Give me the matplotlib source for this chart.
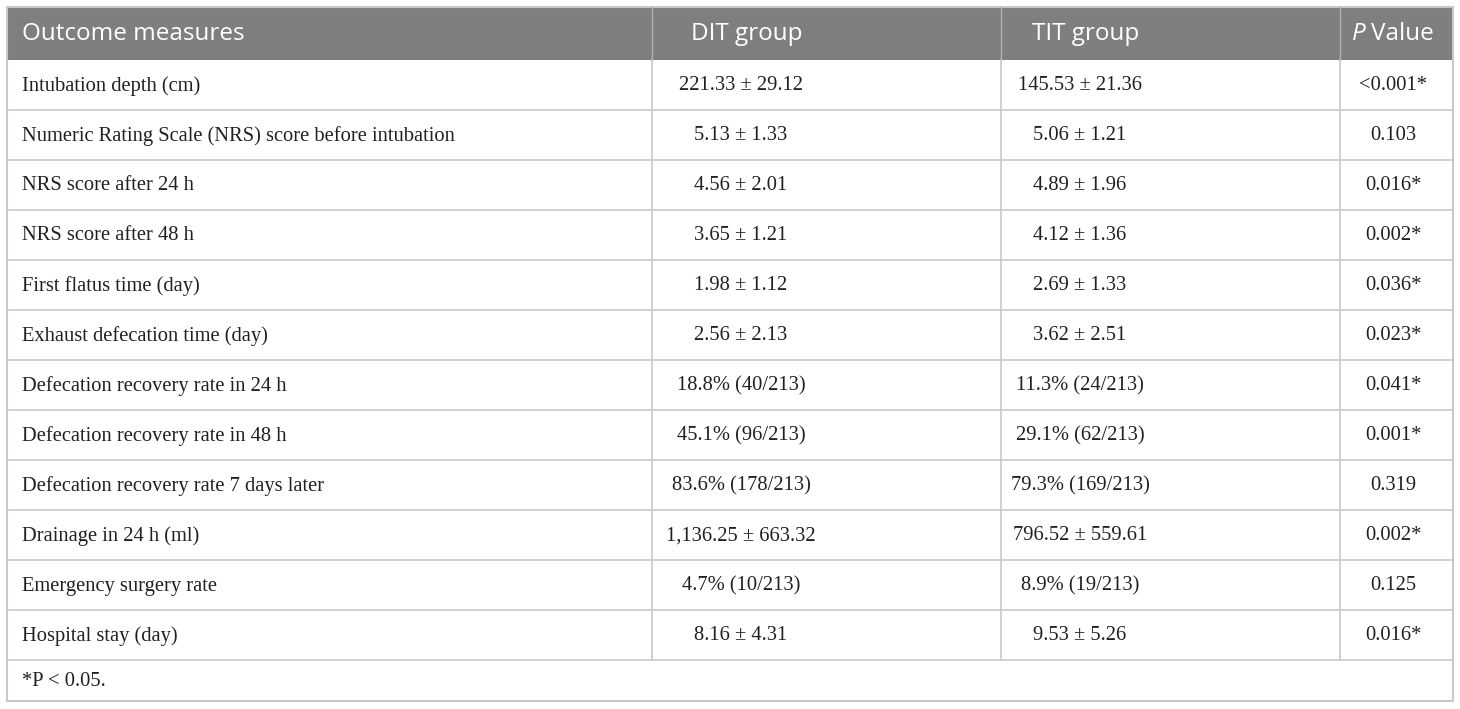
import matplotlib
matplotlib.use("Agg")
import matplotlib.pyplot as plt
from matplotlib.patches import Rectangle

# table content
headers = ["Outcome measures", "DIT group", "TIT group", "Value"]
measures = [
    "Intubation depth (cm)",
    "Numeric Rating Scale (NRS) score before intubation",
    "NRS score after 24 h",
    "NRS score after 48 h",
    "First flatus time (day)",
    "Exhaust defecation time (day)",
    "Defecation recovery rate in 24 h",
    "Defecation recovery rate in 48 h",
    "Defecation recovery rate 7 days later",
    "Drainage in 24 h (ml)",
    "Emergency surgery rate",
    "Hospital stay (day)",
]
dit_group = [
    "221.33 \u00b1 29.12", "5.13 \u00b1 1.33", "4.56 \u00b1 2.01", "3.65 \u00b1 1.21",
    "1.98 \u00b1 1.12", "2.56 \u00b1 2.13", "18.8% (40/213)", "45.1% (96/213)",
    "83.6% (178/213)", "1,136.25 \u00b1 663.32", "4.7% (10/213)", "8.16 \u00b1 4.31",
]
tit_group = [
    "145.53 \u00b1 21.36", "5.06 \u00b1 1.21", "4.89 \u00b1 1.96", "4.12 \u00b1 1.36",
    "2.69 \u00b1 1.33", "3.62 \u00b1 2.51", "11.3% (24/213)", "29.1% (62/213)",
    "79.3% (169/213)", "796.52 \u00b1 559.61", "8.9% (19/213)", "9.53 \u00b1 5.26",
]
p_values = [
    "<0.001*", "0.103", "0.016*", "0.002*", "0.036*", "0.023*",
    "0.041*", "0.001*", "0.319", "0.002*", "0.125", "0.016*",
]
footnote = "*P < 0.05."

# layout in pixels
W, H = 1460, 709
left, right = 7, 1453
top, header_bottom = 7, 60
row_h = 50
col_edges = [left, 652, 1001, 1340, right]
col_centers = [None, 741, 1080, 1393]
bottom = 701
grid = "#c8c8c8"
head_bg = "#7f7f7f"
ink = "#231f20"
serif = "Liberation Serif"
sans = "Open Sans"
body_size = 14.8
head_size = 17.5

fig = plt.figure(figsize=(W / 100, H / 100), dpi=100)
ax = fig.add_axes([0, 0, 1, 1])
ax.set_xlim(0, W)
ax.set_ylim(H, 0)
ax.axis("off")

# header band
ax.add_patch(Rectangle((left, top), right - left, header_bottom - top,
                       facecolor=head_bg, edgecolor="none"))
for x in col_edges[1:-1]:
    ax.plot([x, x], [top, header_bottom], color="#b0b0b0", lw=1)

hy = (top + header_bottom) / 2
ax.text(22, hy, headers[0], fontsize=head_size, family=sans, color="white",
        va="center", ha="left")
ax.text(col_centers[1] + 6, hy, headers[1], fontsize=head_size, family=sans,
        color="white", va="center", ha="center")
ax.text(col_centers[2] + 6, hy, headers[2], fontsize=head_size, family=sans,
        color="white", va="center", ha="center")
ax.text(1366, hy, "P", fontsize=head_size, family=sans, style="italic",
        color="white", va="center", ha="right")
ax.text(1371, hy, headers[3], fontsize=head_size, family=sans,
        color="white", va="center", ha="left")

# body rows
n = len(measures)
table_bottom = header_bottom + n * row_h
for i in range(n):
    y0 = header_bottom + i * row_h
    yc = y0 + row_h / 2 + 1
    ax.text(22, yc, measures[i], fontsize=body_size, family=serif, color=ink,
            va="center", ha="left")
    ax.text(col_centers[1], yc, dit_group[i], fontsize=body_size, family=serif,
            color=ink, va="center", ha="center")
    ax.text(col_centers[2], yc, tit_group[i], fontsize=body_size, family=serif,
            color=ink, va="center", ha="center")
    ax.text(col_centers[3], yc, p_values[i], fontsize=body_size, family=serif,
            color=ink, va="center", ha="center")
    ax.plot([left, right], [y0 + row_h, y0 + row_h], color=grid, lw=1.2)

for x in col_edges[1:-1]:
    ax.plot([x, x], [header_bottom, table_bottom], color=grid, lw=1.2)

# footnote
ax.text(22, (table_bottom + bottom) / 2 + 1, footnote, fontsize=body_size,
        family=serif, color=ink, va="center", ha="left")

# outer frame
ax.add_patch(Rectangle((left, top), right - left, bottom - top,
                       facecolor="none", edgecolor=grid, lw=1.5))

fig.savefig("out.png", dpi=100)
